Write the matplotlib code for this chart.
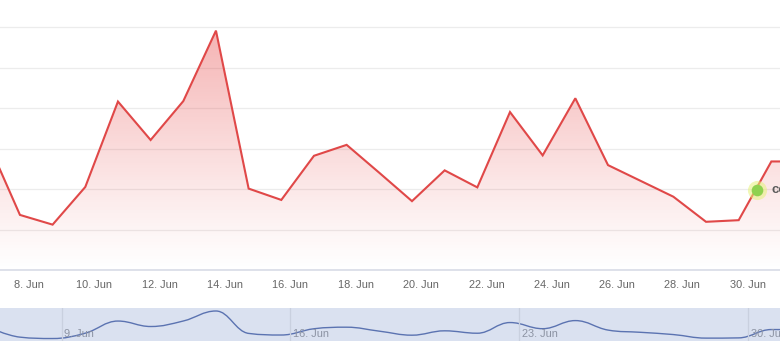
import numpy as np
import pandas as pd
import matplotlib
matplotlib.use("Agg")
import matplotlib.pyplot as plt
import matplotlib.dates as mdates
import matplotlib.transforms as mtransforms
from matplotlib.path import Path
from matplotlib.patches import PathPatch

plt.rcParams["font.family"] = ["Liberation Sans", "DejaVu Sans"]

# daily values (sampled late afternoon each day)
dates = pd.date_range("2023-06-06 17:20", periods=26, freq="D")
values = [31.9, 13.6, 11.2, 20.5, 41.6, 32.1, 41.7, 59.1, 20.1, 17.3,
          28.2, 30.9, 24.0, 17.0, 24.6, 20.4, 39.0, 28.3, 42.4, 25.9,
          22.0, 18.1, 11.9, 12.3, 26.8, 26.8]

main_ticks = pd.date_range("2023-06-08", "2023-06-30", freq="2D")
nav_ticks = pd.date_range("2023-06-09", "2023-06-30", freq="7D")
x_start, x_end = pd.Timestamp("2023-06-07 02:41"), pd.Timestamp("2023-06-30 23:41")

LINE = "#e04848"
W, H = 780, 351

x = mdates.date2num(dates.to_pydatetime())
y = np.array(values)

fig = plt.figure(figsize=(W / 100, H / 100), dpi=100)
fig.patch.set_facecolor("white")

# ---- main chart
ax = fig.add_axes([0, (H - 270) / H, 1, 270 / H])
for s in ax.spines.values():
    s.set_visible(False)
ax.set_yticks([10, 20, 30, 40, 50, 60])
ax.yaxis.grid(True, color="#ececec", linewidth=0.9)
ax.set_axisbelow(True)
ax.tick_params(axis="y", length=0, labelleft=False)
ax.axhline(0, color="#d8dce6", linewidth=1.2, clip_on=False)

ax.set_xticks(mdates.date2num(main_ticks.to_pydatetime()))
ax.set_xticklabels([f"{d.day}. Jun" for d in main_ticks])
ax.tick_params(axis="x", length=0, pad=7, labelsize=7.9, labelcolor="#666666")

# gradient fill under the line
poly = ax.fill_between(x, y, 0, color="none")
grad = np.linspace(0, 1, 256).reshape(-1, 1)
rgba = np.zeros((256, 1, 4))
rgba[..., 0], rgba[..., 1], rgba[..., 2] = 0.9, 0.22, 0.22
rgba[..., 3] = 0.38 * grad ** 1.1
im = ax.imshow(rgba, origin="lower", aspect="auto",
               extent=[x[0], x[-1], 0, max(values)], zorder=1)
clip = PathPatch(poly.get_paths()[0], transform=ax.transData, facecolor="none", edgecolor="none")
ax.add_patch(clip)
im.set_clip_path(clip)
ax.set_xlim(mdates.date2num(x_start), mdates.date2num(x_end))
ax.set_ylim(0, 270 / 4.05)

ax.plot(x, y, color=LINE, linewidth=1.5, zorder=3, solid_joinstyle="miter")

# small badge near the right edge (cut off by the frame, as in the source)
ax.scatter([757 / W], [80 / 270], s=190, color="#e6f27a", alpha=0.55,
           transform=ax.transAxes, zorder=4, linewidths=0)
ax.scatter([757 / W], [80 / 270], s=70, color="#8fd14f",
           transform=ax.transAxes, zorder=5, linewidths=0)
ax.text(771 / W, 80 / 270, "co", transform=ax.transAxes, fontsize=9.5,
        fontweight="bold", color="#5a5a5a", va="center", ha="left", zorder=5)


# ---- navigator (spline of the same series)
def spline_path(xs, ys, smoothing=1.5):
    denom = smoothing + 1
    n = len(xs)
    left, right = [None] * n, [None] * n
    for i in range(1, n - 1):
        px, py = xs[i], ys[i]
        lx, ly = xs[i - 1], ys[i - 1]
        nx, ny = xs[i + 1], ys[i + 1]
        lcx = (smoothing * px + lx) / denom
        lcy = (smoothing * py + ly) / denom
        rcx = (smoothing * px + nx) / denom
        rcy = (smoothing * py + ny) / denom
        if rcx != lcx:
            corr = (rcy - lcy) * (rcx - px) / (rcx - lcx) + py - rcy
            lcy += corr
            rcy += corr
        if lcy > ly and lcy > py:
            lcy = max(ly, py); rcy = 2 * py - lcy
        elif lcy < ly and lcy < py:
            lcy = min(ly, py); rcy = 2 * py - lcy
        if rcy > ny and rcy > py:
            rcy = max(ny, py); lcy = 2 * py - rcy
        elif rcy < ny and rcy < py:
            rcy = min(ny, py); lcy = 2 * py - rcy
        left[i], right[i] = (lcx, lcy), (rcx, rcy)
    right[0] = (xs[0], ys[0])
    left[-1] = (xs[-1], ys[-1])
    verts, codes = [(xs[0], ys[0])], [Path.MOVETO]
    for i in range(1, n):
        verts += [right[i - 1], left[i], (xs[i], ys[i])]
        codes += [Path.CURVE4] * 3
    return Path(verts, codes)


nav = fig.add_axes([0, (H - 340.7) / H, 1, 32.4 / H])
nav.set_facecolor("#dae1f0")
for s in nav.spines.values():
    s.set_visible(False)
nav.set_xlim(mdates.date2num(x_start), mdates.date2num(x_end))
nav.set_ylim(7.4, 63.8)
nav.set_yticks([])
nav.set_xticks([])
label_shift = mtransforms.offset_copy(nav.get_xaxis_transform(), fig=fig, x=2, y=0, units="points")
for d in nav_ticks:
    xd = mdates.date2num(d.to_pydatetime())
    nav.axvline(xd, color="#c9d0df", linewidth=0.9)
    nav.text(xd, 0.06, f"{d.day}. Jun", transform=label_shift,
             fontsize=7.9, color="#8c93a3", ha="left", va="bottom")
nav.add_patch(PathPatch(spline_path(x, y), facecolor="none", edgecolor="#5b73b1", linewidth=1.0))

fig.savefig("out.png", dpi=100)
